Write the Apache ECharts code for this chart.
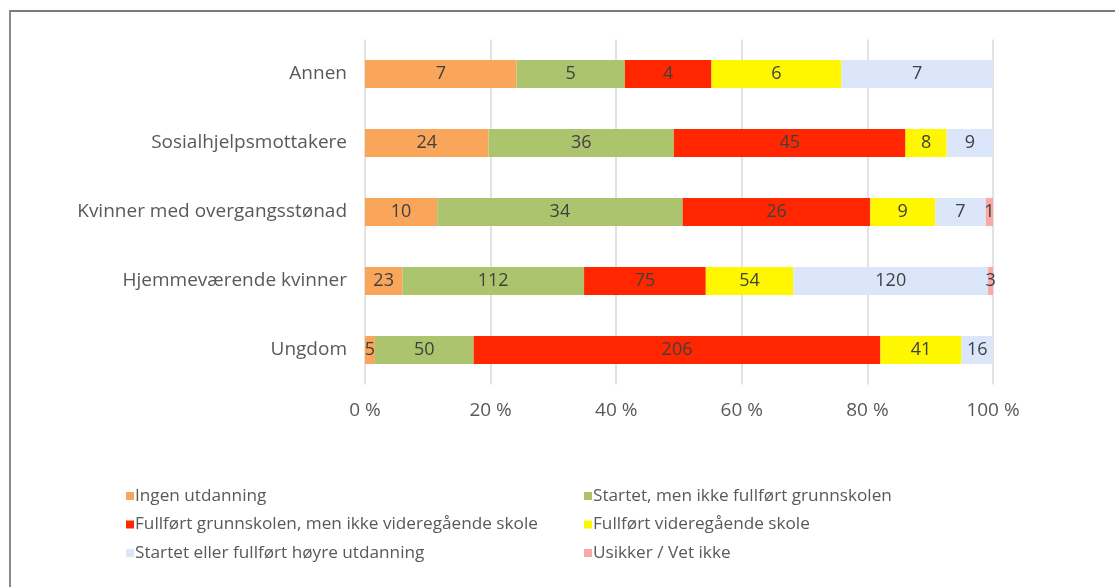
<!DOCTYPE html>
<html>
<head>
<meta charset="utf-8">
<script src="https://cdn.jsdelivr.net/npm/echarts@6/dist/echarts.min.js"></script>
<style>
html,body{margin:0;padding:0;background:#fff;}
#frame{position:absolute;left:9px;top:10px;width:1120px;height:600px;border-top:2px solid #7a7a7a;border-left:2px solid #8a8a8a;box-sizing:border-box;pointer-events:none;z-index:10;}
#chart{position:absolute;left:0;top:0;width:1115px;height:587px;}
</style>
</head>
<body>
<div id="chart"></div>
<div id="frame"></div>
<script>
const categories = ['Annen', 'Sosialhjelpsmottakere', 'Kvinner med overgangsstønad', 'Hjemmeværende kvinner', 'Ungdom'];
const seriesNames = ['Ingen utdanning', 'Startet, men ikke fullført grunnskolen', 'Fullført grunnskolen, men ikke videregående skole', 'Fullført videregående skole', 'Startet eller fullført høyre utdanning', 'Usikker / Vet ikke'];
const ingen     = [7, 24, 10, 23, 5];
const startet   = [5, 36, 34, 112, 50];
const grunn     = [4, 45, 26, 75, 206];
const vgs       = [6, 8, 9, 54, 41];
const hoyre     = [7, 9, 7, 120, 16];
const usikker   = [0, 0, 1, 3, 0];
const xTicks = [0, 20, 40, 60, 80, 100];
const colors = ['#F9A65A', '#ADC46E', '#FF2600', '#FFF700', '#DCE6FA', '#F9A8A4'];

const raw = [ingen, startet, grunn, vgs, hoyre, usikker];
const totals = categories.map((c, i) => raw.reduce((s, arr) => s + arr[i], 0));
const FONT = '"Open Sans"';

const series = raw.map((arr, si) => ({
  name: seriesNames[si],
  type: 'bar',
  stack: 'total',
  barWidth: 28,
  itemStyle: { color: colors[si] },
  label: {
    show: true,
    position: 'inside',
    color: '#404040',
    fontSize: 18,
    fontFamily: FONT,
    formatter: p => { const v = arr[p.dataIndex]; return v ? String(v) : ''; }
  },
  emphasis: { disabled: true },
  data: arr.map((v, i) => v / totals[i] * 100)
}));

const legendText = { color: '#595959', fontSize: 17.2, fontFamily: FONT, lineHeight: 20, padding: [0,0,0,-4] };
const chart = echarts.init(document.getElementById('chart'), null, { renderer: 'canvas' });
chart.setOption({
  animation: false,
  backgroundColor: '#fff',
  textStyle: { fontFamily: FONT },
  grid: { left: 365, right: 122, top: 39.5, bottom: 202.5, containLabel: false },
  xAxis: {
    type: 'value',
    min: 0, max: 100, interval: 20,
    axisLine: { show: false },
    axisTick: { show: false },
    splitLine: { show: true, lineStyle: { color: '#D9D9D9', width: 1.5 } },
    axisLabel: { color: '#595959', fontSize: 19, fontFamily: FONT, margin: 17,
      formatter: v => xTicks.includes(v) ? v + ' %' : '' }
  },
  yAxis: {
    type: 'category',
    inverse: true,
    data: categories,
    axisLine: { show: false },
    axisTick: { show: false },
    axisLabel: { color: '#595959', fontSize: 19, fontFamily: FONT, margin: 18, padding: [6, 0, 0, 0] }
  },
  legend: [
    {
      orient: 'vertical', left: 121, top: 481,
      data: [seriesNames[0], seriesNames[2], seriesNames[4]],
      itemWidth: 8, itemHeight: 8, itemGap: 8.5, icon: 'rect',
      selectedMode: false,
      textStyle: legendText
    },
    {
      orient: 'vertical', left: 579, top: 481,
      data: [seriesNames[1], seriesNames[3], seriesNames[5]],
      itemWidth: 8, itemHeight: 8, itemGap: 8.5, icon: 'rect',
      selectedMode: false,
      textStyle: legendText
    }
  ],
  series: series
});
</script>
</body>
</html>
